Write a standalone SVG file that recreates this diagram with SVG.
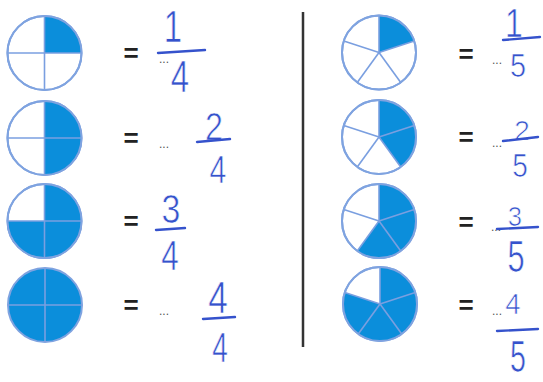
<svg xmlns="http://www.w3.org/2000/svg" width="543" height="382" viewBox="0 0 543 382">
<defs>
<style>
.bg{fill:#ffffff}
.disc{fill:#ffffff;stroke:#7fa3e0;stroke-width:2}
.ring{fill:none;stroke:#7fa3e0;stroke-width:2}
.sh{fill:#0b8edb}
.div{stroke:#7a9fe0;stroke-width:1.6;fill:none}
.eq{font-family:"Liberation Sans",Arial,sans-serif;font-weight:bold;font-size:26px;fill:#222;text-anchor:middle}
.dots{font-family:"Liberation Sans",Arial,sans-serif;font-size:12px;fill:#555}
.hw{font-family:"Liberation Sans",Arial,sans-serif;fill:#3552cc;stroke:#ffffff;stroke-width:0.7;text-anchor:middle}
.bar{stroke:#3552cc;stroke-width:2.4;stroke-linecap:round;fill:none}
.sep{stroke:#333;stroke-width:2.5}
</style>
<g id="q-lines">
<line class="div" x1="0" y1="-37" x2="0" y2="37"/>
<line class="div" x1="-37" y1="0" x2="37" y2="0"/>
</g>
<g id="p-lines">
<line class="div" x1="0" y1="0" x2="0" y2="-37"/>
<line class="div" x1="0" y1="0" x2="35.19" y2="-11.43"/>
<line class="div" x1="0" y1="0" x2="21.75" y2="29.93"/>
<line class="div" x1="0" y1="0" x2="-21.75" y2="29.93"/>
<line class="div" x1="0" y1="0" x2="-35.19" y2="-11.43"/>
</g>
</defs>
<rect class="bg" x="0" y="0" width="543" height="382"/>

<g id="connectors">
<line class="sep" x1="303" y1="12" x2="303" y2="347"/>
</g>

<!-- Left column: quarters -->
<g id="pie-q1" transform="translate(44.5,53)">
<circle class="disc" r="37"/>
<path class="sh" d="M0,0 L0,-37 A37,37 0 0 1 37,0 Z"/>
<use href="#q-lines"/>
<circle class="ring" r="37"/>
</g>
<g id="eq-q1">
<text class="eq" x="131" y="62">=</text>
<text class="dots" x="159" y="63">...</text>
<text class="hw" transform="translate(173,42) scale(0.75,1)" font-size="44">1</text>
<path class="bar" d="M158,53 L205,50"/>
<text class="hw" transform="translate(180,92) scale(0.75,1)" font-size="44">4</text>
</g>

<g id="pie-q2" transform="translate(44.5,138)">
<circle class="disc" r="37"/>
<path class="sh" d="M0,-37 A37,37 0 0 1 0,37 Z"/>
<use href="#q-lines"/>
<circle class="ring" r="37"/>
</g>
<g id="eq-q2">
<text class="eq" x="131" y="147">=</text>
<text class="dots" x="159" y="148">...</text>
<text class="hw" transform="translate(214,140) scale(0.85,1)" font-size="38">2</text>
<path class="bar" d="M197,142 L230,139"/>
<text class="hw" transform="translate(218,183) scale(0.8,1)" font-size="38">4</text>
</g>

<g id="pie-q3" transform="translate(44.5,221)">
<circle class="disc" r="37"/>
<path class="sh" d="M0,0 L0,-37 A37,37 0 1 1 -37,0 Z"/>
<use href="#q-lines"/>
<circle class="ring" r="37"/>
</g>
<g id="eq-q3">
<text class="eq" x="131" y="230">=</text>
<text class="hw" transform="translate(171,223) scale(0.85,1)" font-size="40">3</text>
<path class="bar" d="M156,230 L185,228"/>
<text class="hw" transform="translate(170,270) scale(0.75,1)" font-size="42">4</text>
</g>

<g id="pie-q4" transform="translate(45,305)">
<circle class="sh" r="37"/>
<line class="div" x1="0" y1="-37" x2="0" y2="37" stroke="#2f7fd0"/>
<line class="div" x1="-37" y1="0" x2="37" y2="0" stroke="#2f7fd0"/>
<circle class="ring" r="37"/>
</g>
<g id="eq-q4">
<text class="eq" x="131" y="314">=</text>
<text class="dots" x="159" y="315">...</text>
<text class="hw" transform="translate(218,313) scale(0.8,1)" font-size="44">4</text>
<path class="bar" d="M203,319 L235,317"/>
<text class="hw" transform="translate(220,362) scale(0.65,1)" font-size="43">4</text>
</g>

<!-- Right column: fifths -->
<g id="pie-f1" transform="translate(379,52.5)">
<circle class="disc" r="37"/>
<path class="sh" d="M0,0 L0,-37 A37,37 0 0 1 35.19,-11.43 Z"/>
<use href="#p-lines"/>
<circle class="ring" r="37"/>
</g>
<g id="eq-f1">
<text class="eq" x="466" y="63">=</text>
<text class="dots" x="492" y="64">...</text>
<text class="hw" transform="translate(514,37) scale(0.8,1)" font-size="40">1</text>
<path class="bar" d="M503,40 L540,37"/>
<text class="hw" transform="translate(518,77) scale(0.85,1)" font-size="34">5</text>
</g>

<g id="pie-f2" transform="translate(379,137)">
<circle class="disc" r="37"/>
<path class="sh" d="M0,0 L0,-37 A37,37 0 0 1 21.75,29.93 Z"/>
<use href="#p-lines"/>
<circle class="ring" r="37"/>
</g>
<g id="eq-f2">
<text class="eq" x="466" y="146">=</text>
<text class="dots" x="492" y="147">...</text>
<text class="hw" transform="translate(522,140)" font-size="28">2</text>
<path class="bar" d="M503,141 L538,137"/>
<text class="hw" transform="translate(520,177) scale(0.85,1)" font-size="33">5</text>
</g>

<g id="pie-f3" transform="translate(379,221)">
<circle class="disc" r="37"/>
<path class="sh" d="M0,0 L0,-37 A37,37 0 1 1 -21.75,29.93 Z"/>
<use href="#p-lines"/>
<circle class="ring" r="37"/>
</g>
<g id="eq-f3">
<text class="eq" x="466" y="231">=</text>
<text class="dots" x="491" y="231">...</text>
<text class="hw" transform="translate(515,226) scale(0.95,1)" font-size="27">3</text>
<path class="bar" d="M497,229 L538,227"/>
<text class="hw" transform="translate(516,272) scale(0.7,1)" font-size="44">5</text>
</g>

<g id="pie-f4" transform="translate(380,304)">
<circle class="disc" r="37"/>
<path class="sh" d="M0,0 L0,-37 A37,37 0 1 1 -35.19,-11.43 Z"/>
<use href="#p-lines"/>
<circle class="ring" r="37"/>
</g>
<g id="eq-f4">
<text class="eq" x="466" y="314">=</text>
<text class="dots" x="492" y="315">...</text>
<text class="hw" transform="translate(513,314) scale(0.95,1)" font-size="29">4</text>
<path class="bar" d="M497,331 L538,329"/>
<text class="hw" transform="translate(518,372) scale(0.65,1)" font-size="44">5</text>
</g>
</svg>
